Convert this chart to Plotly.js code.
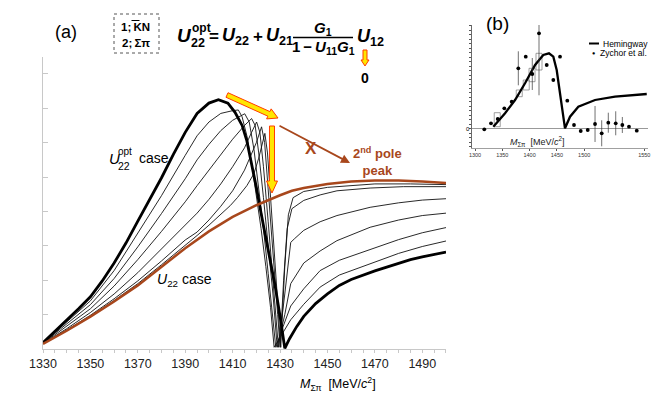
<!DOCTYPE html>
<html>
<head>
<meta charset="utf-8">
<script src="https://cdn.plot.ly/plotly-3.0.1.min.js"></script>
<style>
  html, body { margin: 0; padding: 0; background: #fff; }
  #chart { width: 654px; height: 397px; }
</style>
</head>
<body>
<div id="chart"></div>
<script>
// ---- panel (a) data (y in axis tick units) ----
var thickX = [1330,1335,1340,1345,1350,1355,1360,1365,1370,1375,1380,1385,1390,1395,1400,1404,1408,1411,1414,1416,1418,1420,1422,1424,1426,1428,1430,1432,1434,1437,1440,1445,1450,1455,1460,1465,1470,1475,1480,1485,1490,1495,1500];
var thickY = [0.18,0.5,0.85,1.17,1.52,1.98,2.5,3.08,3.72,4.35,4.98,5.66,6.3,6.85,7.15,7.25,7.15,6.88,6.5,6.05,5.4,4.7,3.95,3.25,2.55,1.8,0.95,0.02,0.3,0.65,0.95,1.32,1.6,1.85,2.02,2.15,2.27,2.38,2.49,2.6,2.68,2.76,2.82];

var brownX = [1330,1340,1350,1360,1370,1380,1390,1400,1410,1420,1425,1430,1435,1440,1450,1460,1470,1480,1490,1500];
var brownY = [0.15,0.53,0.94,1.38,1.85,2.38,2.93,3.42,3.84,4.18,4.33,4.47,4.6,4.68,4.8,4.87,4.9,4.9,4.87,4.83];

var thin1X = [1330,1340,1350,1360,1370,1380,1390,1395,1400,1405,1410,1412.4,1414,1416,1418,1420,1422,1424,1426,1427.5,1431,1434.5,1440,1446.9,1455,1468,1480,1490,1500];
var thin1Y = [0.17,0.79,1.4,2.28,3.35,4.46,5.63,6.2,6.6,6.85,6.93,6.95,6.75,6.2,5.4,4.5,3.5,2.4,1.2,0.05,0.45,0.85,1.3,1.8,2.15,2.48,2.78,2.98,3.14];

var thin2X = [1330,1340,1350,1360,1370,1380,1390,1395,1400,1405,1410,1415.1,1417,1419,1421,1423,1425,1427,1428.2,1431,1434.5,1440,1446.9,1455,1468,1480,1490,1500];
var thin2Y = [0.17,0.72,1.29,2.05,2.97,3.94,4.95,5.5,5.95,6.35,6.65,6.84,6.6,5.8,4.7,3.5,2.2,0.9,0.05,0.6,1.25,1.75,2.28,2.58,2.9,3.18,3.38,3.53];

var thin3X = [1330,1340,1350,1360,1370,1380,1390,1395,1400,1405,1410,1415,1418,1419.5,1421,1423,1425,1427,1428.8,1432,1434.5,1440,1446.9,1454,1468,1480,1490,1500];
var thin3Y = [0.16,0.66,1.17,1.83,2.6,3.42,4.28,4.75,5.2,5.65,6.1,6.5,6.7,6.5,5.7,4.4,3.0,1.6,0.05,1.0,1.9,2.5,2.85,3.15,3.54,3.75,3.88,3.95];

var thin4X = [1330,1340,1350,1360,1370,1380,1390,1395,1400,1405,1410,1415,1418,1420.1,1421.5,1423,1425,1427,1429.3,1432,1434.5,1436,1440,1446.9,1454,1468,1480,1490,1500];
var thin4Y = [0.16,0.59,1.06,1.6,2.22,2.9,3.6,3.95,4.35,4.8,5.3,5.85,6.3,6.6,6.3,5.3,3.7,2.1,0.05,1.6,3.1,3.2,3.45,3.7,3.88,4.12,4.25,4.33,4.37];

var thin5X = [1330,1340,1350,1360,1370,1380,1390,1395,1400,1405,1410,1415,1420,1422.2,1423.5,1425,1427,1429,1430,1431.5,1433,1435,1440,1446.9,1454,1468,1482,1500];
var thin5Y = [0.15,0.55,0.98,1.46,1.98,2.56,3.17,3.4,3.75,4.15,4.6,5.2,6.0,6.46,6.0,4.7,2.9,1.0,0.05,2.0,3.5,4.08,4.32,4.48,4.6,4.68,4.72,4.72];

var thin6X = [1330,1340,1350,1360,1370,1380,1390,1395,1400,1405,1409,1412,1416,1419,1421,1423.6,1424.7,1426,1428,1430.3,1432,1433.5,1435.5,1440,1450,1460,1470,1485,1500];
var thin6Y = [0.15,0.54,0.95,1.41,1.9,2.45,3.01,3.3,3.6,3.92,4.17,4.4,4.75,5.1,5.55,6.27,5.7,4.4,2.4,0.05,2.4,3.9,4.4,4.58,4.7,4.76,4.8,4.8,4.78];

var mainTicks = [1330,1350,1370,1390,1410,1430,1450,1470,1490];

// ---- panel (b) data (x in the inset's printed label units) ----
var hemX = [1333.5,1355,1373.3,1391.6,1410,1425,1435.5,1443.4,1449.6,1455.7,1461.7,1464.8,1474,1489.2,1519.8,1556.4,1614.5];
var hemY = [2.3,15.7,29,45.7,64,74,75.7,72.3,59,35.7,12.3,0.7,12.3,22.3,29,32.3,35];

var zyX = [1317,1329.3,1341.6,1353.7,1367.2,1379.3,1392.9,1404.9,1417.2,1431.3,1443.4,1455.7,1469,1481.3,1493.6,1506.4,1519.8,1532,1544.1,1557.7,1569.8,1582,1596.2];
var zyY = [-0.3,5.7,10,20.7,27.3,60.7,72.3,55,95.7,64,49,72.3,28.3,4,-2,-1,5,-4.3,6.3,5.7,4,2.3,-1.7];
var zyErrUp = [0,0,0,0,0,17,0,16,22,0,0,0,0,0,0,0,18,13,10,12,8,0,0];
var zyErrDown = [0,0,0,0,0,17,0,16,62,0,0,0,0,0,0,0,18,13,10,12,8,0,0];

var boxX = [1340.7,1381,1393.8,1404.4,1417.2];
var boxBase = [2.3,32.3,39,47.3,59];
var boxH = [14,6.7,10,13.4,16.7];

var insetTickVals = [1300,1350,1400,1450,1500,1610];
var insetTickText = ['1300','1350','1400','1450','1500','1550'];

// ---- styling ----
var FONT = 'Liberation Sans, Arial, sans-serif';
var BROWN = '#a8471c';

// pixel -> paper helpers (plot area: x 43..648, y 25..349)
function X(px) { return (px - 43) / 605; }
function Y(py) { return (349 - py) / 324; }

function arrowPath(x0, y0, x1, y1, w, hw, hl) {
    var dx = x1 - x0, dy = y1 - y0, L = Math.sqrt(dx * dx + dy * dy);
    var ux = dx / L, uy = dy / L, nx = -uy, ny = ux;
    var bx = x1 - ux * hl, by = y1 - uy * hl;
    var pts = [[x0 + nx * w, y0 + ny * w], [bx + nx * w, by + ny * w], [bx + nx * hw, by + ny * hw],
        [x1, y1], [bx - nx * hw, by - ny * hw], [bx - nx * w, by - ny * w], [x0 - nx * w, y0 - ny * w]];
    return 'M' + pts.map(function (p) { return X(p[0]).toFixed(5) + ',' + Y(p[1]).toFixed(5); }).join(' L') + ' Z';
}

function thin(x, y) {
    return { x: x, y: y, type: 'scatter', mode: 'lines', xaxis: 'x', yaxis: 'y',
        line: { color: '#111', width: 0.9 }, hoverinfo: 'skip' };
}

var data = [
    thin(thin1X, thin1Y), thin(thin2X, thin2Y), thin(thin3X, thin3Y),
    thin(thin4X, thin4Y), thin(thin5X, thin5Y), thin(thin6X, thin6Y),
    { x: thickX, y: thickY, type: 'scatter', mode: 'lines', line: { color: '#000', width: 2.8 } },
    { x: brownX, y: brownY, type: 'scatter', mode: 'lines', line: { color: BROWN, width: 2.5 } },
    // inset
    { x: boxX, y: boxH, base: boxBase, type: 'bar', xaxis: 'x2', yaxis: 'y2', width: 11,
        marker: { color: 'rgba(0,0,0,0)', line: { color: '#777', width: 0.7 } } },
    { x: hemX, y: hemY, type: 'scatter', mode: 'lines', xaxis: 'x2', yaxis: 'y2',
        line: { color: '#000', width: 2.3 } },
    { x: zyX, y: zyY, type: 'scatter', mode: 'markers', xaxis: 'x2', yaxis: 'y2',
        marker: { color: '#000', size: 3.8 },
        error_y: { type: 'data', symmetric: false, array: zyErrUp, arrayminus: zyErrDown,
            color: '#333', thickness: 0.7, width: 0 } }
];

function txt(s, px, py, size, opts) {
    var a = { text: s, x: X(px), y: Y(py), xref: 'paper', yref: 'paper', showarrow: false,
        xanchor: 'center', yanchor: 'middle', font: { family: FONT, size: size, color: '#000' } };
    for (var k in (opts || {})) a[k] = opts[k];
    return a;
}

var annotations = [
    txt('(a)', 66, 32, 18),
    txt('<b>1;\u2009KN</b>', 119, 27, 11.5, { xanchor: 'left' }),
    txt('<b>2;\u2009\u03a3\u03c0</b>', 120, 43, 11.5, { xanchor: 'left' }),
    // formula
    txt('<b><i>U</i></b>', 175, 35, 19, { xanchor: 'left' }),
    txt('<b>opt</b>', 190, 28, 12, { xanchor: 'left' }),
    txt('<b>22</b>', 189, 43, 12.5, { xanchor: 'left' }),
    txt('<b>=</b>', 214, 36, 17),
    txt('<b><i>U</i><sub>22</sub></b>', 220, 36, 18, { xanchor: 'left' }),
    txt('<b>+</b>', 258, 36, 17),
    txt('<b><i>U</i><sub>21</sub></b>', 264, 36, 18, { xanchor: 'left' }),
    txt('<b><i>G</i><sub>1</sub></b>', 323, 28, 15),
    txt('<b>1\u2009\u2212\u2009<i>U</i><sub>11</sub><i>G</i><sub>1</sub></b>', 323, 48, 15),
    txt('<b><i>U</i><sub>12</sub></b>', 355, 38, 18, { xanchor: 'left' }),
    txt('<b>0</b>', 365, 78, 14),
    // curve labels
    txt('<i>U</i>', 107, 158, 15, { xanchor: 'left' }),
    txt('opt', 116, 151, 10, { xanchor: 'left' }),
    txt('22', 116, 166, 10.5, { xanchor: 'left' }),
    txt('case', 137, 158, 14, { xanchor: 'left' }),
    txt('<i>U</i><sub>22</sub> case', 155, 280, 14, { xanchor: 'left' }),
    txt('<b>X</b>', 311, 148, 17, { font: { family: FONT, size: 17, color: BROWN } }),
    txt('<b>2<sup>nd</sup> pole<br>peak</b>', 377, 161, 13, { font: { family: FONT, size: 13, color: BROWN } }),
    { x: X(350), y: Y(163), xref: 'paper', yref: 'paper', text: '', showarrow: true,
        ax: -72, ay: -38, arrowhead: 2, arrowsize: 1, arrowwidth: 1.8, arrowcolor: BROWN },
    txt('<i>M</i><sub>\u03a3\u03c0</sub>  [MeV/<i>c</i><sup>2</sup>]', 338, 384, 12.5),
    // inset
    txt('(b)', 497, 24, 19),
    txt('0', 468, 129, 6),
    txt('<i>M</i><sub>\u03a3\u03c0</sub>  [MeV/<i>c</i><sup>2</sup>]', 537, 141, 9, { font: { family: FONT, size: 9, color: '#222' } }),
    txt('Hemingway', 601, 43.5, 8.5, { xanchor: 'left' }),
    txt('\u25cf', 593, 53, 5.5),
    txt('Zychor et al.', 598, 53.5, 8.5, { xanchor: 'left' })
];

var shapes = [
    { type: 'rect', xref: 'paper', yref: 'paper', x0: X(114), x1: X(159), y0: Y(53), y1: Y(14),
        line: { color: '#555', width: 1, dash: 'dot' } },
    // bar over K
    { type: 'line', xref: 'paper', yref: 'paper', x0: X(131.5), x1: X(139.5), y0: Y(20.5), y1: Y(20.5),
        line: { color: '#000', width: 1 } },
    // fraction bar
    { type: 'line', xref: 'paper', yref: 'paper', x0: X(293), x1: X(353), y0: Y(37.5), y1: Y(37.5),
        line: { color: '#000', width: 1.6 } },
    { type: 'path', xref: 'paper', yref: 'paper', path: arrowPath(365, 50, 365, 66, 2, 4, 6),
        fillcolor: '#ffe600', line: { color: '#ff3c00', width: 1 } },
    { type: 'path', xref: 'paper', yref: 'paper', path: arrowPath(227, 95, 278, 118, 2.5, 5.5, 10),
        fillcolor: '#ffe600', line: { color: '#ff3c00', width: 1 } },
    { type: 'path', xref: 'paper', yref: 'paper', path: arrowPath(272, 126, 272, 193, 2.5, 5.5, 12),
        fillcolor: '#ffe600', line: { color: '#ff3c00', width: 1 } },
    // inset legend line
    { type: 'line', xref: 'paper', yref: 'paper', x0: X(589), x1: X(599), y0: Y(43.5), y1: Y(43.5),
        line: { color: '#000', width: 2 } }
];

var layout = {
    width: 654,
    height: 397,
    margin: { l: 43, r: 6, t: 25, b: 48 },
    paper_bgcolor: '#fff',
    plot_bgcolor: 'rgba(0,0,0,0)',
    showlegend: false,
    font: { family: FONT, color: '#000' },
    xaxis: {
        domain: [0, 0.6661],
        range: [1330, 1500],
        tickvals: mainTicks,
        showline: true, linecolor: '#c8c8c8', linewidth: 1,
        ticks: 'outside', ticklen: 3, tickcolor: '#c8c8c8',
        minor: { dtick: 5, tick0: 1330, ticks: 'outside', ticklen: 3, tickcolor: '#c8c8c8' },
        tickfont: { family: FONT, size: 12.5, color: '#222' },
        showgrid: false, zeroline: false
    },
    yaxis: {
        domain: [0, 0.9012],
        range: [0, 8.49],
        tickmode: 'linear', tick0: 0, dtick: 1,
        showticklabels: false,
        showline: true, linecolor: '#c8c8c8', linewidth: 1,
        ticks: 'inside', ticklen: 5, tickcolor: '#c8c8c8',
        showgrid: false, zeroline: false
    },
    xaxis2: {
        domain: [0.7091, 1],
        anchor: 'y2',
        range: [1294.5, 1616.8],
        tickvals: insetTickVals,
        ticktext: insetTickText,
        tickfont: { family: FONT, size: 5.5, color: '#333' },
        ticks: 'outside', ticklen: 2, tickcolor: '#555',
        showline: true, linecolor: '#888', linewidth: 0.8,
        showgrid: false, zeroline: false
    },
    yaxis2: {
        domain: [0.6204, 1],
        anchor: 'x2',
        range: [-19, 104],
        tickmode: 'linear', tick0: 0, dtick: 4.5,
        showticklabels: false,
        ticks: 'outside', ticklen: 2, tickcolor: '#555',
        showline: true, linecolor: '#444', linewidth: 0.8,
        showgrid: false,
        zeroline: true, zerolinecolor: '#999', zerolinewidth: 1
    },
    annotations: annotations,
    shapes: shapes
};

Plotly.newPlot('chart', data, layout, { staticPlot: true, displayModeBar: false });
</script>
</body>
</html>
